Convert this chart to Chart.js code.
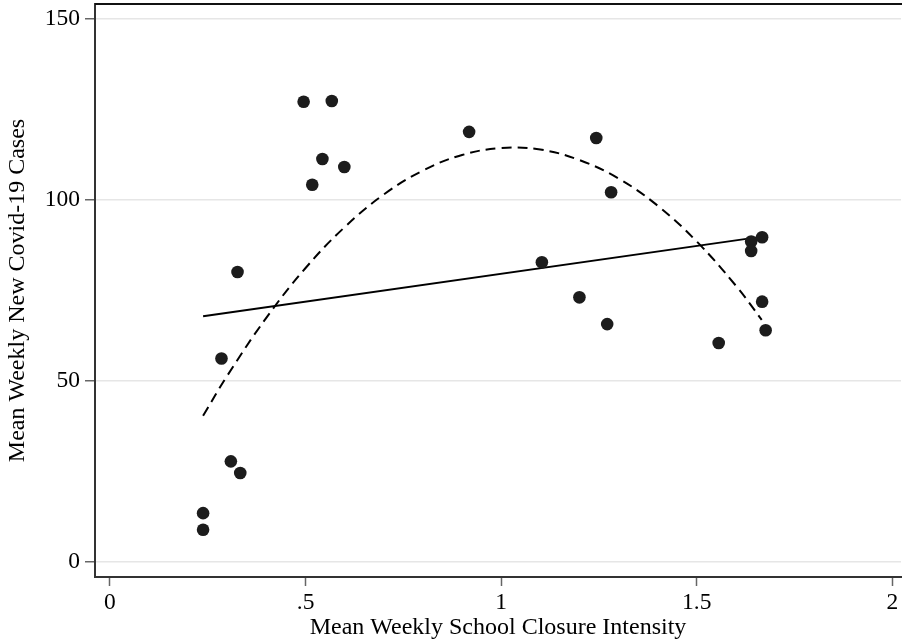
<!DOCTYPE html>
<html>
<head>
<meta charset="utf-8">
<script src="https://cdn.jsdelivr.net/npm/chart.js@4/dist/chart.umd.min.js"></script>
<style>
  body { margin: 0; background: #fff; }
  canvas { display: block; }
</style>
</head>
<body>
<canvas id="closure" width="902" height="641"></canvas>
<script>
// scatter points
const closure = [0.238, 0.238, 0.285, 0.309, 0.333, 0.326, 0.495, 0.517, 0.543, 0.567, 0.599, 0.918,
    1.104, 1.200, 1.243, 1.271, 1.281, 1.556, 1.639, 1.639, 1.667, 1.667, 1.676];
const cases = [13.4, 8.8, 56.1, 27.7, 24.5, 80.0, 127.0, 104.1, 111.2, 127.2, 109.0, 118.7,
    82.7, 73.0, 117.0, 65.6, 102.0, 60.4, 88.4, 85.8, 89.6, 71.8, 63.9];

// linear fit (solid)
const linX = [0.238, 1.676];
const linY = [67.8, 89.9];

// quadratic fit (dashed)
const quadX = [0.238, 0.3, 0.4, 0.5, 0.6, 0.7, 0.8, 0.9, 1.0, 1.1, 1.2, 1.3, 1.4, 1.5, 1.6, 1.666];
const quadY = [40.3, 51.4, 67.4, 81.1, 92.4, 101.4, 108.0, 112.3, 114.2, 113.8, 110.9, 105.8, 98.3, 88.4, 76.2, 66.8];

const xTicks = [0, 0.5, 1, 1.5, 2];
const yTicks = [0, 50, 100, 150];

const pts = (xs, ys) => xs.map((x, i) => ({ x: x, y: ys[i] }));
const tickFont = { family: 'Liberation Serif', size: 23.5 };
const titleFont = { family: 'Liberation Serif', size: 24, lineHeight: 1.1 };

const topLine = {
    id: 'topLine',
    afterDraw(chart) {
        const a = chart.chartArea, c = chart.ctx;
        c.save();
        c.strokeStyle = '#111';
        c.lineWidth = 2;
        c.beginPath();
        c.moveTo(a.left, a.top);
        c.lineTo(a.right + 1, a.top);
        c.stroke();
        c.restore();
    }
};

new Chart(document.getElementById('closure'), {
    type: 'scatter',
    data: {
        datasets: [{
            data: pts(closure, cases),
            pointRadius: 6.3,
            pointBackgroundColor: '#1c1c1c',
            pointBorderWidth: 0
        }, {
            data: pts(linX, linY),
            showLine: true,
            borderColor: '#000',
            borderWidth: 2,
            pointRadius: 0
        }, {
            data: pts(quadX, quadY),
            showLine: true,
            borderColor: '#000',
            borderWidth: 2,
            borderDash: [10, 6],
            tension: 0.4,
            pointRadius: 0
        }]
    },
    options: {
        responsive: false,
        animation: false,
        layout: { autoPadding: false, padding: { top: 4, right: 1, left: 0, bottom: 0 } },
        plugins: { legend: { display: false }, tooltip: { enabled: false } },
        scales: {
            x: {
                type: 'linear',
                min: -0.0383,
                max: 2.022,
                afterBuildTicks: s => { s.ticks = xTicks.map(v => ({ value: v })); },
                afterFit: s => {
                    s.height = 64;
                    s.paddingLeft = 0; s.paddingRight = 0;
                },
                ticks: {
                    color: '#000',
                    font: tickFont,
                    padding: 3,
                    maxRotation: 0,
                    callback: v => v === 0 ? '0' : String(v).replace(/^0\./, '.')
                },
                grid: { drawOnChartArea: false, tickLength: 9, tickColor: '#666', tickWidth: 1.5 },
                border: { color: '#333', width: 2 },
                title: {
                    display: true,
                    text: 'Mean Weekly School Closure Intensity',
                    color: '#000',
                    font: titleFont,
                    padding: { top: 0, bottom: 0 }
                }
            },
            y: {
                min: -4.23,
                max: 154.0,
                afterBuildTicks: s => { s.ticks = yTicks.map(v => ({ value: v })); },
                afterFit: s => {
                    s.width = 95;
                    s.paddingTop = 0; s.paddingBottom = 0;
                },
                ticks: { color: '#000', font: tickFont, padding: 5 },
                grid: { color: '#e6e6e6', lineWidth: 1.5, tickLength: 10, tickColor: '#666', tickWidth: 1.5 },
                border: { color: '#333', width: 2 },
                title: {
                    display: true,
                    text: 'Mean Weekly New Covid-19 Cases',
                    color: '#000',
                    font: titleFont,
                    padding: { top: 5, bottom: 0 }
                }
            }
        }
    },
    plugins: [topLine]
});
</script>
</body>
</html>
